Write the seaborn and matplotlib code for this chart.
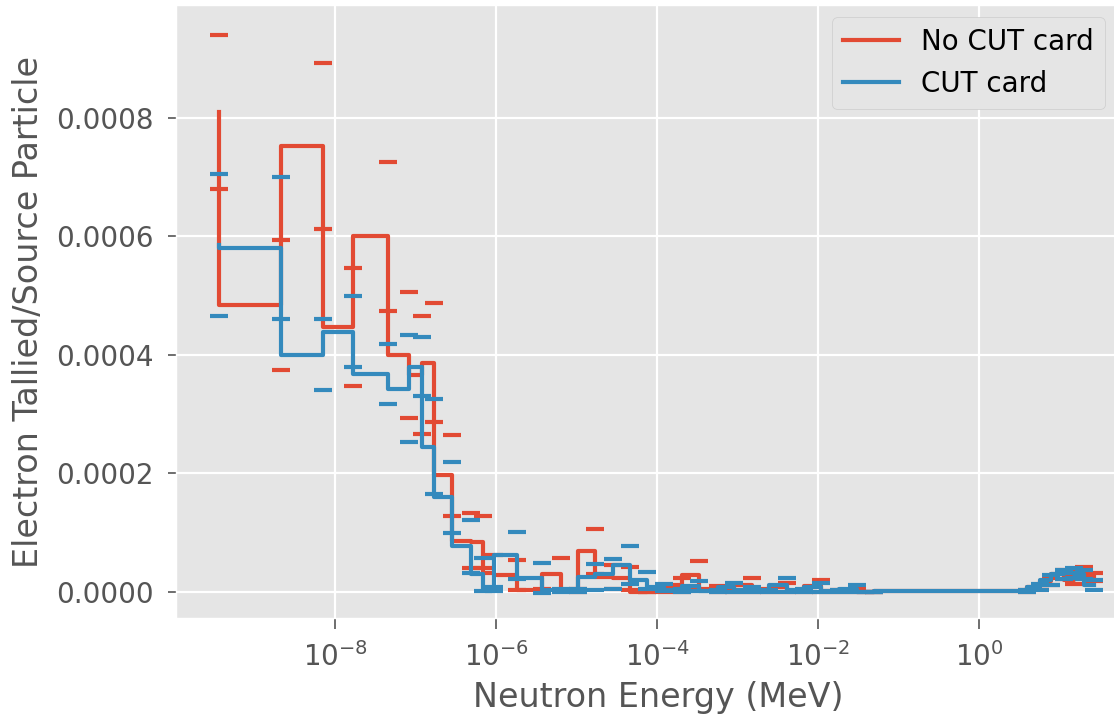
import numpy as np
import matplotlib
matplotlib.use("Agg")
import matplotlib.pyplot as plt
import seaborn as sns

# ---- data ----
# bin edge positions expressed as log10(E / MeV)
log_energy = [-9.44, -8.67, -8.15, -7.78, -7.34, -7.08, -6.92, -6.77, -6.55, -6.31,
              -6.17, -6.03, -5.74, -5.43, -5.20, -4.98, -4.77, -4.55, -4.34, -4.13,
              -3.91, -3.69, -3.48, -3.25, -3.04, -2.82, -2.61, -2.39, -2.17, -1.96,
              -1.74, -1.52, -1.31, 0.60, 0.76, 0.90, 1.05, 1.18, 1.30, 1.43]
no_cut = [0.00081, 0.000484, 0.000753, 0.000447, 0.000600, 0.000400, 0.000366, 0.000387, 0.000197, 0.0000866,
          0.000084, 0.000033, 0.0000286, 0.000003, 0.000030, 0.000003, 0.000069, 0.000025, 0.000023, 0.0,
          0.000005, 0.000012, 0.000028, 0.000005, 0.000002, 0.000012, 0.000003, 0.000008, 0.000002, 0.000010,
          0.000002, 0.000003, 0.0, 0.000002, 0.000008, 0.000018, 0.000030, 0.000020, 0.000035, 0.000025]
no_cut_err = [0.00013, 0.00011, 0.00014, 0.00010, 0.000126, 0.000106, 0.00010, 0.00010, 0.000068, 0.000046,
              0.000044, 0.000030, 0.000025, 0.000003, 0.000028, 0.000003, 0.000038, 0.000020, 0.000020, 0.0,
              0.000005, 0.000012, 0.000025, 0.000005, 0.000002, 0.000012, 0.000003, 0.000008, 0.000002, 0.000010,
              0.000002, 0.000003, 0.0, 0.000002, 0.000004, 0.000006, 0.000008, 0.000006, 0.000008, 0.000007]
cut = [0.000585, 0.00058, 0.000400, 0.000439, 0.000368, 0.000343, 0.000380, 0.000245, 0.000160, 0.0000773,
       0.000030, 0.000005, 0.000062, 0.0000235, 0.000003, 0.000003, 0.000025, 0.000030, 0.000045, 0.000020,
       0.000008, 0.000003, 0.000010, 0.000002, 0.000008, 0.000004, 0.000002, 0.000012, 0.000003, 0.000008,
       0.000002, 0.000006, 0.0, 0.000002, 0.000008, 0.000020, 0.000030, 0.000032, 0.000030, 0.000012]
cut_err = [0.00012, 0.00012, 0.00006, 0.00006, 0.00005, 0.00009, 0.00005, 0.00008, 0.00006, 0.000045,
           0.000028, 0.000004, 0.000040, 0.000025, 0.000003, 0.000003, 0.000022, 0.000025, 0.000032, 0.000014,
           0.000006, 0.000003, 0.000008, 0.000002, 0.000008, 0.000004, 0.000002, 0.000012, 0.000003, 0.000008,
           0.000002, 0.000006, 0.0, 0.000002, 0.000005, 0.000008, 0.000008, 0.000008, 0.000008, 0.000008]

labels = ["No CUT card", "CUT card"]
colors = ["#E24A33", "#348ABD"]

energy = np.power(10.0, np.array(log_energy))

plt.style.use("ggplot")
sns.set_style({"axes.facecolor": "#E5E5E5", "grid.color": "white"})
plt.rcParams["font.family"] = ["DejaVu Sans"]

fig = plt.figure(figsize=(11.14, 7.17), dpi=100)
ax = fig.add_axes([176 / 1114, (717 - 618) / 717, (1140 - 176) / 1114, (618 - 5) / 717])

for vals, errs, lab, col in zip([no_cut, cut], [no_cut_err, cut_err], labels, colors):
    sns.lineplot(x=energy, y=vals, drawstyle="steps-pre", color=col, lw=3,
                 label=lab, ax=ax, estimator=None, sort=False)
    ax.errorbar(energy, vals, yerr=errs, fmt="none", ecolor=col, elinewidth=0,
                capsize=6.2, capthick=3)

ax.set_xscale("log")
ax.set_xlim(10 ** -9.98, 10 ** 2.0)
ax.set_ylim(-0.0000437, 0.00099)
ax.set_yticks([0.0, 0.0002, 0.0004, 0.0006, 0.0008])
ax.yaxis.set_major_formatter(matplotlib.ticker.FormatStrFormatter("%.4f"))
ax.set_xticks([1e-8, 1e-6, 1e-4, 1e-2, 1e0])
ax.minorticks_off()
ax.grid(True, color="white", lw=1.6)
ax.tick_params(labelsize=20, colors="#555555", width=1.2)
ax.tick_params(axis="y", length=6, pad=10)
ax.tick_params(axis="x", pad=9, length=8)
ax.set_xlabel("Neutron Energy (MeV)", fontsize=24, color="#555555")
ax.set_ylabel("Electron Tallied/Source Particle", fontsize=24, color="#555555")
ax.xaxis.set_label_coords(0.5, -0.102)
ax.yaxis.set_label_coords(-0.136, 0.5)
leg = ax.legend(loc="upper left", bbox_to_anchor=(832 / 1114, 1 - 17 / 717),
                bbox_transform=fig.transFigure, borderaxespad=0, fontsize=20, frameon=True,
                facecolor="#E5E5E5", edgecolor="#CCCCCC", framealpha=1)
for t in leg.get_texts():
    t.set_color("black")

fig.savefig("out.png", dpi=100)
